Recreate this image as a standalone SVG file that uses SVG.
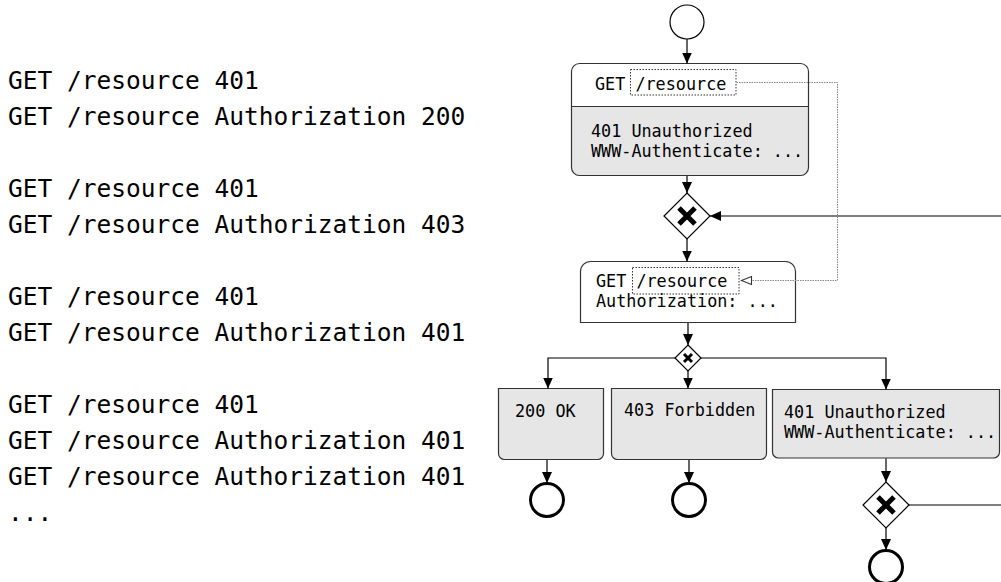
<svg xmlns="http://www.w3.org/2000/svg" width="1001" height="582" viewBox="0 0 1001 582">
<style>
.log{font-family:"DejaVu Sans Mono","Liberation Mono",monospace;font-size:24.5px;fill:#000}
.t{font-family:"DejaVu Sans Mono","Liberation Mono",monospace;font-size:16.8px;fill:#000}
.box{stroke:#333;stroke-width:1.2}
.gray{fill:#e6e6e6}
.edge{fill:none;stroke:#000;stroke-width:1.2}
.dot{fill:none;stroke:#333;stroke-width:1;stroke-dasharray:1.5 1.5}
.ref{fill:none;stroke:#888;stroke-width:1;stroke-dasharray:1.5 1}
.refhead{fill:#fff;stroke:#333;stroke-width:1.1}
.gw{fill:#fff;stroke:#000;stroke-width:1.2}
.x{stroke:#000;stroke-linecap:butt}
.start{fill:#fff;stroke:#000;stroke-width:1.2}
.end{fill:#fff;stroke:#000;stroke-width:3}
</style>
<defs>
<marker id="arr" markerUnits="userSpaceOnUse" markerWidth="12" markerHeight="12" refX="11" refY="5" orient="auto" viewBox="0 0 12 10">
<path d="M0,0 L11,5 L0,10 Z" fill="#000"/>
</marker>
</defs>

<g id="log">
<text class="log" x="8" y="89">GET /resource 401</text>
<text class="log" x="8" y="125">GET /resource Authorization 200</text>
<text class="log" x="8" y="197">GET /resource 401</text>
<text class="log" x="8" y="233">GET /resource Authorization 403</text>
<text class="log" x="8" y="305">GET /resource 401</text>
<text class="log" x="8" y="341">GET /resource Authorization 401</text>
<text class="log" x="8" y="413">GET /resource 401</text>
<text class="log" x="8" y="449">GET /resource Authorization 401</text>
<text class="log" x="8" y="485">GET /resource Authorization 401</text>
<text class="log" x="8" y="521">...</text>
</g>

<g id="start">
<circle class="start" cx="687" cy="22" r="17"/>
</g>

<g id="req1">
<rect class="gray" x="571.5" y="63.5" width="237" height="112" rx="8"/>
<path d="M571.5,106.5 V71.5 A8,8 0 0 1 579.5,63.5 H800.5 A8,8 0 0 1 808.5,71.5 V106.5 Z" fill="#fff"/>
<line class="box" x1="571.5" y1="106.5" x2="808.5" y2="106.5"/>
<rect class="box" x="571.5" y="63.5" width="237" height="112" rx="8" fill="none"/>
<text class="t" x="595" y="90">GET /resource</text>
<rect class="dot" x="630.5" y="69.5" width="105.5" height="25.5"/>
<text class="t" x="591" y="137">401 Unauthorized</text>
<text class="t" x="591" y="157">WWW-Authenticate: ...</text>
</g>

<g id="gw1">
<path class="gw" d="M687,193 L710,216 L687,239 L664,216 Z"/>
<path class="x" d="M679,208 L695,224 M695,208 L679,224" stroke-width="5"/>
</g>

<g id="req2">
<path class="box" fill="#fff" d="M580.5,322.5 V271.5 A10,10 0 0 1 590.5,261.5 H785.5 A10,10 0 0 1 795.5,271.5 V322.5 Z"/>
<text class="t" x="596" y="287">GET /resource</text>
<rect class="dot" x="632.5" y="267.5" width="106.5" height="26.5"/>
<text class="t" x="596" y="307">Authorization: ...</text>
</g>

<g id="gw2">
<path class="gw" d="M688,345 L701,358 L688,371 L675,358 Z"/>
<path class="x" d="M684,354 L692,362 M692,354 L684,362" stroke-width="3"/>
</g>

<g id="ok">
<path class="box gray" d="M498.5,388.5 H603.5 V453.5 A6,6 0 0 1 597.5,459.5 H504.5 A6,6 0 0 1 498.5,453.5 Z"/>
<text class="t" x="515" y="417">200 OK</text>
</g>

<g id="forbidden">
<path class="box gray" d="M611.5,388.5 H766.5 V453.5 A6,6 0 0 1 760.5,459.5 H617.5 A6,6 0 0 1 611.5,453.5 Z"/>
<text class="t" x="624" y="416">403 Forbidden</text>
</g>

<g id="unauth">
<path class="box gray" d="M772.5,389.5 H999.5 V452 A6,6 0 0 1 993.5,458 H778.5 A6,6 0 0 1 772.5,452 Z"/>
<text class="t" x="784" y="418">401 Unauthorized</text>
<text class="t" x="784" y="438">WWW-Authenticate: ...</text>
</g>

<g id="gw3">
<path class="gw" d="M886,482 L909,505 L886,528 L863,505 Z"/>
<path class="x" d="M878,497 L894,513 M894,497 L878,513" stroke-width="5"/>
</g>

<g id="end1"><circle class="end" cx="547" cy="500" r="16.5"/></g>
<g id="end2"><circle class="end" cx="689" cy="500" r="16.5"/></g>
<g id="end3"><circle class="end" cx="886" cy="567" r="16.5"/></g>

<g id="connectors">
<line class="edge" x1="687" y1="39" x2="687" y2="63.5" marker-end="url(#arr)"/>
<line class="edge" x1="687" y1="176" x2="687" y2="193" marker-end="url(#arr)"/>
<line class="edge" x1="1001" y1="216" x2="710" y2="216" marker-end="url(#arr)"/>
<line class="edge" x1="687" y1="239" x2="687" y2="261.5" marker-end="url(#arr)"/>
<line class="edge" x1="688" y1="323" x2="688" y2="345" marker-end="url(#arr)"/>
<polyline class="edge" points="675,358 548,358 548,388.5" marker-end="url(#arr)"/>
<line class="edge" x1="688" y1="371" x2="688" y2="388.5" marker-end="url(#arr)"/>
<polyline class="edge" points="701,358 886,358 886,389.5" marker-end="url(#arr)"/>
<line class="edge" x1="547" y1="460" x2="547" y2="483" marker-end="url(#arr)"/>
<line class="edge" x1="689" y1="460" x2="689" y2="483" marker-end="url(#arr)"/>
<line class="edge" x1="886" y1="458.5" x2="886" y2="482" marker-end="url(#arr)"/>
<line class="edge" x1="886" y1="528" x2="886" y2="550" marker-end="url(#arr)"/>
<line class="edge" x1="909" y1="505" x2="1001" y2="505"/>
<polyline class="ref" points="736.5,82.5 837.5,82.5 837.5,280.5 751.5,280.5"/>
<polygon class="refhead" points="741.5,280.5 751.5,276.5 751.5,284.5"/>
</g>
</svg>
